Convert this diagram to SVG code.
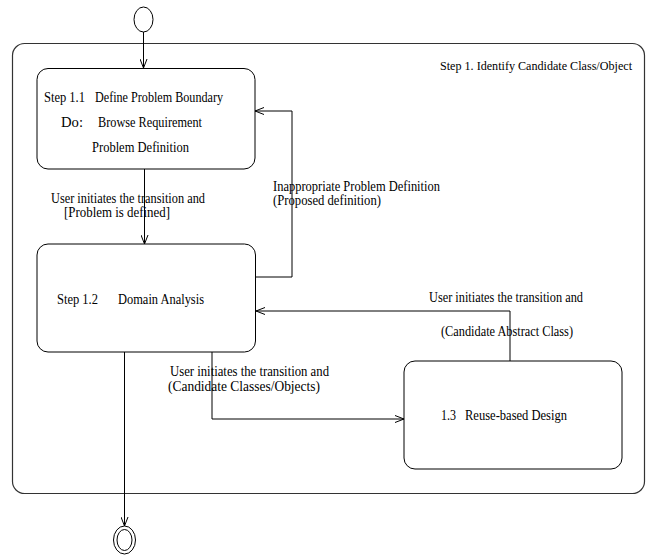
<svg xmlns="http://www.w3.org/2000/svg" width="647" height="555" viewBox="0 0 647 555">
  <style>
    .shape { fill: none; stroke: #000; stroke-width: 1; }
    .frame { fill: none; stroke: #333; stroke-width: 1.2; }
    .edge { fill: none; stroke: #000; stroke-width: 1; marker-end: url(#open); }
    text { font-family: "Liberation Serif", "Times New Roman", serif; font-size: 14px; fill: #000; }
    .title { font-size: 12.5px; }
  </style>
  <defs>
    <marker id="open" markerWidth="10" markerHeight="8" refX="9" refY="4" orient="auto" markerUnits="userSpaceOnUse">
      <path d="M0,0.5 L9,4 L0,7.5" fill="none" stroke="#000" stroke-width="1"/>
    </marker>
  </defs>

  <!-- composite state -->
  <g id="step1">
    <rect class="frame" x="12.5" y="43.5" width="632" height="450" rx="12" ry="12"/>
    <text class="title" x="440" y="70" textLength="192" lengthAdjust="spacingAndGlyphs">Step 1. Identify Candidate Class/Object</text>
  </g>

  <!-- pseudo states -->
  <g id="initial">
    <ellipse class="shape" cx="143.5" cy="19.5" rx="9.5" ry="12.5"/>
  </g>
  <g id="final">
    <ellipse class="shape" cx="124.5" cy="540" rx="11" ry="14"/>
    <ellipse class="shape" cx="124.5" cy="540" rx="7.5" ry="10.5"/>
  </g>

  <!-- sub states -->
  <g id="step1-1">
    <rect class="shape" x="37" y="68.5" width="218" height="100.5" rx="11" ry="11"/>
    <text x="44" y="102" textLength="41" lengthAdjust="spacingAndGlyphs">Step 1.1</text>
    <text x="95" y="102" textLength="128" lengthAdjust="spacingAndGlyphs">Define Problem Boundary</text>
    <text x="61" y="127" textLength="22" lengthAdjust="spacingAndGlyphs">Do:</text>
    <text x="98" y="127" textLength="104" lengthAdjust="spacingAndGlyphs">Browse Requirement</text>
    <text x="92" y="152" textLength="97" lengthAdjust="spacingAndGlyphs">Problem Definition</text>
  </g>

  <g id="step1-2">
    <rect class="shape" x="37" y="244" width="218.5" height="108" rx="11" ry="11"/>
    <text x="57" y="304" textLength="41" lengthAdjust="spacingAndGlyphs">Step 1.2</text>
    <text x="118" y="304" textLength="86" lengthAdjust="spacingAndGlyphs">Domain Analysis</text>
  </g>

  <g id="step1-3">
    <rect class="shape" x="404" y="361" width="218" height="108" rx="11" ry="11"/>
    <text x="441" y="420" textLength="15" lengthAdjust="spacingAndGlyphs">1.3</text>
    <text x="465" y="420" textLength="102" lengthAdjust="spacingAndGlyphs">Reuse-based Design</text>
  </g>

  <!-- transitions -->
  <g id="connectors">
    <path class="edge" d="M143.5,32 L143.5,68"/>
    <path class="edge" d="M144.5,169 L144.5,244"/>
    <path class="edge" d="M255.5,277 L292,277 L292,111 L255,111"/>
    <path class="edge" d="M510,361 L510,311 L256,311"/>
    <path class="edge" d="M212,352 L212,419 L404,419"/>
    <path class="edge" d="M124.5,352 L124.5,526"/>

    <text x="51" y="203" textLength="154" lengthAdjust="spacingAndGlyphs">User initiates the transition and</text>
    <text x="64" y="217" textLength="106" lengthAdjust="spacingAndGlyphs">[Problem is defined]</text>
    <text x="273" y="191" textLength="167" lengthAdjust="spacingAndGlyphs">Inappropriate Problem Definition</text>
    <text x="273" y="205" textLength="108" lengthAdjust="spacingAndGlyphs">(Proposed definition)</text>
    <text x="429" y="302" textLength="154" lengthAdjust="spacingAndGlyphs">User initiates the transition and</text>
    <text x="441" y="336" textLength="132" lengthAdjust="spacingAndGlyphs">(Candidate Abstract Class)</text>
    <text x="170" y="376" textLength="159" lengthAdjust="spacingAndGlyphs">User initiates the transition and</text>
    <text x="168" y="391" textLength="152" lengthAdjust="spacingAndGlyphs">(Candidate Classes/Objects)</text>
  </g>
</svg>
